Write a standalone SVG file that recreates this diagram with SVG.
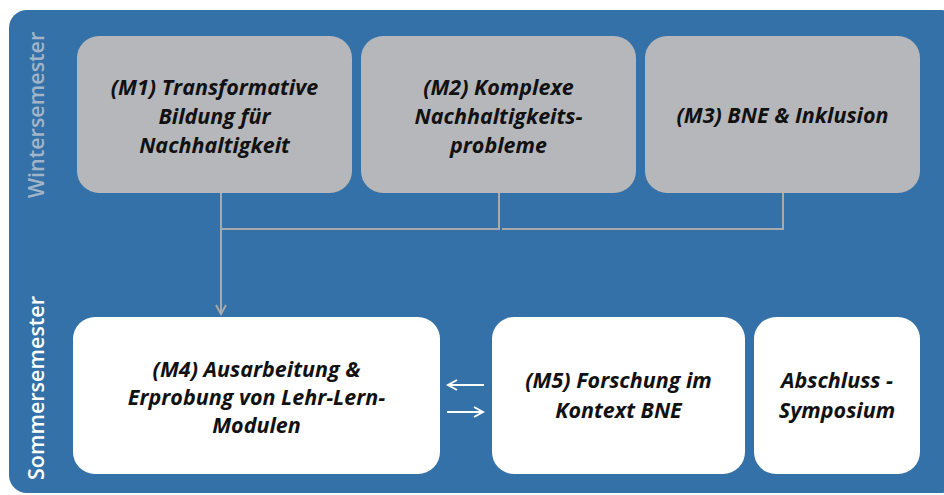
<svg xmlns="http://www.w3.org/2000/svg" width="944" height="495" viewBox="0 0 944 495">
<style>
.bg{fill:#3471a8}
.g{fill:#b6b7ba}
.w{fill:#ffffff}
.t{font-family:"Open Sans","Liberation Sans",sans-serif;font-weight:bold;font-style:italic;font-size:21.5px;fill:#111111;text-anchor:middle}
.side{font-family:"Open Sans","Liberation Sans",sans-serif;font-weight:600;font-size:21.5px;text-anchor:middle}
.con{fill:none;stroke:#a7a9ab;stroke-width:2}
.wc{fill:none;stroke:#ffffff;stroke-width:2}
</style>
<defs>
<marker id="ag" viewBox="0 0 12 12" refX="10" refY="6" markerWidth="12" markerHeight="12" markerUnits="userSpaceOnUse" orient="auto">
<path d="M1,1 L10,6 L1,11" fill="none" stroke="#a7a9ab" stroke-width="2"/>
</marker>
<marker id="aw" viewBox="0 0 12 12" refX="10" refY="6" markerWidth="12" markerHeight="12" markerUnits="userSpaceOnUse" orient="auto">
<path d="M1,1 L10,6 L1,11" fill="none" stroke="#ffffff" stroke-width="2"/>
</marker>
</defs>
<rect class="bg" x="9" y="10" width="950" height="483" rx="18"/>
<text class="side" fill="#a2b4c7" transform="translate(44,115) rotate(-90)">Wintersemester</text>
<text class="side" fill="#ffffff" transform="translate(44,388) rotate(-90)">Sommersemester</text>
<g id="connectors">
<path class="con" d="M221,193 V314" marker-end="url(#ag)"/>
<path class="con" d="M499,193 V229 H221"/>
<path class="con" d="M783,193 V229 H502"/>
<path class="wc" d="M484,385 H448" marker-end="url(#aw)"/>
<path class="wc" d="M447,412 H483" marker-end="url(#aw)"/>
</g>
<g id="m1">
<rect class="g" x="77" y="36" width="275" height="157" rx="22"/>
<text class="t" x="214.5" y="95">(M1) Transformative</text>
<text class="t" x="214.5" y="124">Bildung für</text>
<text class="t" x="214.5" y="153">Nachhaltigkeit</text>
</g>
<g id="m2">
<rect class="g" x="361" y="36" width="275" height="157" rx="22"/>
<text class="t" x="498.5" y="95">(M2) Komplexe</text>
<text class="t" x="498.5" y="124">Nachhaltigkeits-</text>
<text class="t" x="498.5" y="153">probleme</text>
</g>
<g id="m3">
<rect class="g" x="645" y="36" width="275" height="157" rx="22"/>
<text class="t" x="782.5" y="123">(M3) BNE &amp; Inklusion</text>
</g>
<g id="m4">
<rect class="w" x="73" y="317" width="367" height="157" rx="22"/>
<text class="t" x="256.5" y="377">(M4) Ausarbeitung &amp;</text>
<text class="t" x="256.5" y="405">Erprobung von Lehr-Lern-</text>
<text class="t" x="256.5" y="433">Modulen</text>
</g>
<g id="m5">
<rect class="w" x="492" y="317" width="253" height="157" rx="22"/>
<text class="t" x="618.5" y="388">(M5) Forschung im</text>
<text class="t" x="618.5" y="418">Kontext BNE</text>
</g>
<g id="abschluss">
<rect class="w" x="754" y="317" width="166" height="157" rx="22"/>
<text class="t" x="837" y="388">Abschluss -</text>
<text class="t" x="837" y="418">Symposium</text>
</g>
</svg>
